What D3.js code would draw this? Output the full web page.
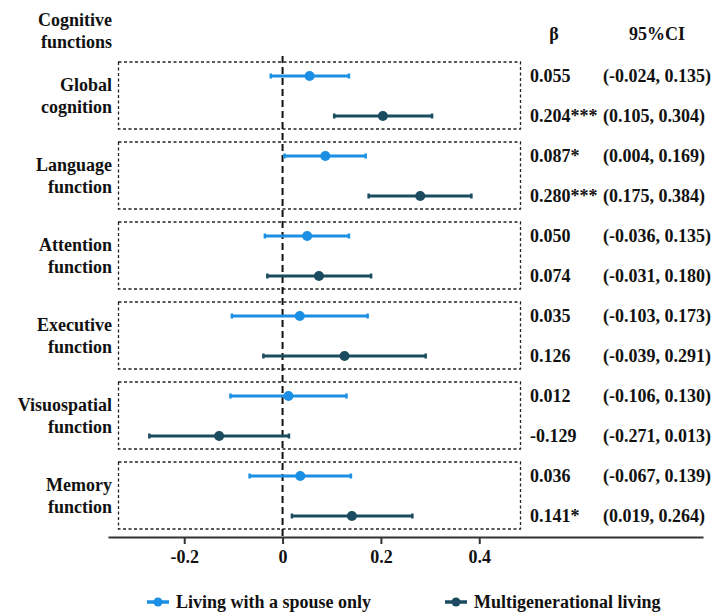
<!DOCTYPE html>
<html>
<head>
<meta charset="utf-8">
<script src="https://cdn.jsdelivr.net/npm/d3@7"></script>
<style>
  body { margin: 0; background: #fff; }
  text { font-family: "Liberation Serif", "Times New Roman", serif; font-weight: bold; fill: #111; }
</style>
</head>
<body>
<svg id="viz"></svg>
<script>
// the data
var categories = ["Global cognition", "Language function", "Attention function",
                  "Executive function", "Visuospatial function", "Memory function"];
var seriesNames = ["Living with a spouse only", "Multigenerational living"];

var spouseBeta = [0.055, 0.087, 0.050, 0.035, 0.012, 0.036];
var spouseLow  = [-0.024, 0.004, -0.036, -0.103, -0.106, -0.067];
var spouseHigh = [0.135, 0.169, 0.135, 0.173, 0.130, 0.139];
var spouseSig  = ["", "*", "", "", "", ""];

var multiBeta = [0.204, 0.280, 0.074, 0.126, -0.129, 0.141];
var multiLow  = [0.105, 0.175, -0.031, -0.039, -0.271, 0.019];
var multiHigh = [0.304, 0.384, 0.180, 0.291, 0.013, 0.264];
var multiSig  = ["***", "***", "", "", "", "*"];

var xTicks = [-0.2, 0, 0.2, 0.4];

var colors = ["#1a8fe3", "#1b4b5f"];

// set up the svg
var w = 721, h = 613;
var svg = d3.select("#viz").attr("width", w).attr("height", h);

// build rows: two per category
var rows = [];
categories.forEach(function(c, i) {
  rows.push({cat: i, s: 0, beta: spouseBeta[i], lo: spouseLow[i], hi: spouseHigh[i], sig: spouseSig[i]});
  rows.push({cat: i, s: 1, beta: multiBeta[i], lo: multiLow[i], hi: multiHigh[i], sig: multiSig[i]});
});

var x = d3.scaleLinear().domain([-0.355, 0.855]).range([108, 703]);
var y = d3.scaleBand().domain(d3.range(rows.length)).range([56, 536]);
var yc = function(i) { return y(i) + y.bandwidth() / 2; };
var fmt = function(v) { return v.toFixed(3); };

// dashed group boxes
svg.selectAll("rect.box")
  .data(categories)
  .enter().append("rect")
  .attr("class", "box")
  .attr("x", 118.5)
  .attr("width", 402)
  .attr("y", function(d, i) { return yc(i * 2) - 14; })
  .attr("height", function(d, i) { return yc(i * 2 + 1) - yc(i * 2) + 27; })
  .attr("fill", "none")
  .attr("stroke", "#222")
  .attr("stroke-width", 1.3)
  .attr("stroke-dasharray", "3,2.5");

// category labels
var lab = svg.selectAll("text.cat")
  .data(categories)
  .enter().append("text")
  .attr("class", "cat")
  .attr("text-anchor", "end")
  .attr("font-size", 18)
  .attr("y", function(d, i) { return (yc(i * 2) - 14 + yc(i * 2 + 1) + 13) / 2 - 5; });
lab.append("tspan").attr("x", 112).text(function(d) { return d.split(" ")[0]; });
lab.append("tspan").attr("x", 112).attr("dy", 22).text(function(d) { return d.split(" ")[1]; });

// x axis
var axis = svg.append("g")
  .attr("transform", "translate(0,537)")
  .call(d3.axisBottom(x).tickValues(xTicks).tickSize(7).tickPadding(6).tickSizeOuter(0)
    .tickFormat(function(d) { return d === 0 ? "0" : d3.format(".1f")(d).replace("−", "-"); }));
axis.select(".domain").attr("stroke", "#333").attr("stroke-width", 2);
axis.selectAll(".tick line").attr("stroke", "#333").attr("stroke-width", 2);
axis.selectAll(".tick text").attr("font-size", 18).attr("fill", "#111")
  .style("font-family", "'Liberation Serif', serif").style("font-weight", "bold");

// zero reference line
svg.append("line")
  .attr("x1", x(0)).attr("x2", x(0))
  .attr("y1", 56).attr("y2", 537)
  .attr("stroke", "#111")
  .attr("stroke-width", 2)
  .attr("stroke-dasharray", "7,4");

// error bars
var bars = svg.selectAll("g.row")
  .data(rows)
  .enter().append("g")
  .attr("class", "row");

bars.append("line")
  .attr("x1", function(d) { return x(d.lo); })
  .attr("x2", function(d) { return x(d.hi); })
  .attr("y1", function(d, i) { return yc(i); })
  .attr("y2", function(d, i) { return yc(i); })
  .attr("stroke", function(d) { return colors[d.s]; })
  .attr("stroke-width", 3);

bars.selectAll("line.cap")
  .data(function(d, i) { return [{v: d.lo, s: d.s, i: i}, {v: d.hi, s: d.s, i: i}]; })
  .enter().append("line")
  .attr("class", "cap")
  .attr("x1", function(d) { return x(d.v); })
  .attr("x2", function(d) { return x(d.v); })
  .attr("y1", function(d) { return yc(d.i) - 2.5; })
  .attr("y2", function(d) { return yc(d.i) + 2.5; })
  .attr("stroke", function(d) { return colors[d.s]; })
  .attr("stroke-width", 2.5);

bars.append("circle")
  .attr("cx", function(d) { return x(d.beta); })
  .attr("cy", function(d, i) { return yc(i); })
  .attr("r", 5)
  .attr("fill", function(d) { return colors[d.s]; });

// beta and CI columns
bars.append("text")
  .attr("x", 530)
  .attr("y", function(d, i) { return yc(i) + 6; })
  .attr("font-size", 18)
  .text(function(d) { return fmt(d.beta) + d.sig; });

bars.append("text")
  .attr("x", 603)
  .attr("y", function(d, i) { return yc(i) + 6; })
  .attr("font-size", 18)
  .text(function(d) { return "(" + fmt(d.lo) + ", " + fmt(d.hi) + ")"; });

// headers
var head = svg.append("text").attr("text-anchor", "end").attr("font-size", 18).attr("y", 26);
head.append("tspan").attr("x", 112).text("Cognitive");
head.append("tspan").attr("x", 112).attr("dy", 22).text("functions");

svg.append("text").attr("x", 554).attr("y", 40).attr("text-anchor", "middle")
  .attr("font-size", 18).text("β");
svg.append("text").attr("x", 657).attr("y", 40).attr("text-anchor", "middle")
  .attr("font-size", 18).text("95%CI");

// legend
var legendX = [147, 445];
var leg = svg.selectAll("g.legend")
  .data(seriesNames)
  .enter().append("g")
  .attr("class", "legend")
  .attr("transform", function(d, i) { return "translate(" + legendX[i] + ",602)"; });
leg.append("line")
  .attr("x1", 0).attr("x2", 22)
  .attr("stroke", function(d, i) { return colors[i]; })
  .attr("stroke-width", 3.5);
leg.append("circle")
  .attr("cx", 11).attr("r", 4.5)
  .attr("fill", function(d, i) { return colors[i]; });
leg.append("text")
  .attr("x", 29).attr("y", 6)
  .attr("font-size", 18)
  .text(function(d) { return d; });
</script>
</body>
</html>
